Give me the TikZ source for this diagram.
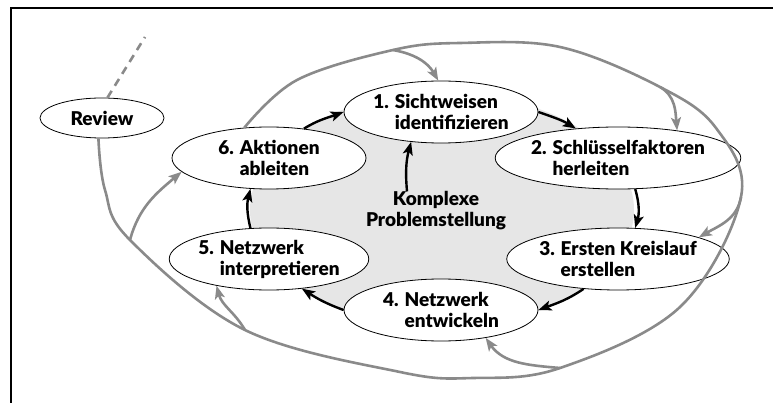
\documentclass[tikz,border=0pt]{standalone}
\usepackage{fontspec}
\setmainfont{Lato}
\newfontfamily\stagefont{Lato Black}
\usetikzlibrary{shapes.geometric,arrows.meta}

\definecolor{loopgray}{HTML}{8A8A8A}
\definecolor{coregray}{HTML}{E6E6E6}

\begin{document}
\begin{tikzpicture}[x=1pt,y=-1pt,
	stage/.style={ellipse, draw, line width=0.8pt, fill=white, inner sep=0pt,
		minimum width=194pt, minimum height=62pt, align=left,
		font=\stagefont\fontsize{19}{21}\selectfont},
	cyclearrow/.style={line width=2.4pt, -{Stealth[length=13pt,width=10pt,inset=3pt]}},
	grayline/.style={draw=loopgray, line width=2.6pt},
	grayarrow/.style={grayline, -{Stealth[length=13pt,width=10pt,inset=3pt]}}]

	\useasboundingbox (0,0) rectangle (773,403);
	\draw[line width=2.3pt] (773,8) -- (11,8) -- (11,403);

	% grey core
	\fill[coregray] (442,210) ellipse [x radius=192, y radius=117];

	\node[stage] (n1) at (441,112) {1. Sichtweisen\\\phantom{1. }identifizieren};
	\node[stage, minimum width=202pt] (n2) at (618,158) {2. Schlüsselfaktoren\\\phantom{2. }herleiten};
	\node[stage, minimum width=202pt] (n3) at (618,259) {3. Ersten Kreislauf\\\phantom{3. }erstellen};
	\node[stage] (n4) at (441,310) {4. Netzwerk\\\phantom{4. }entwickeln};
	\node[stage] (n5) at (269,259) {5. Netzwerk\\\phantom{5. }interpretieren};
	\node[stage] (n6) at (269,158) {6. Aktionen\\\phantom{6. }ableiten};
	\node[stage, minimum width=124pt, minimum height=40pt] (rev) at (102,118) {Review};
	\node[inner sep=0pt, align=center, font=\stagefont\fontsize{19}{21}\selectfont]
		(prob) at (436,211) {Komplexe\\Problemstellung};

	% cycle
	\draw[cyclearrow] (n6.40) to[out=32,in=200] (n1.west);
	\draw[cyclearrow] (n1.east) to[out=-19,in=149] (n2.145);
	\draw[cyclearrow] (n2.-61) to[out=-74,in=74] (n3.61);
	\draw[cyclearrow] (n3.-139) to[out=-146,in=20] (n4.east);
	\draw[cyclearrow] (n4.west) to[out=160,in=-33] (n5.-42);
	\draw[cyclearrow] (n5.121) to[out=104,in=-104] (n6.-121);
	\draw[cyclearrow] ([xshift=-29pt]prob.north) to[out=95,in=-105] (n1.-135);

	% review loop
	\coordinate (b1) at (393,50);
	\coordinate (b2) at (660,87);
	\coordinate (b3) at (741,197);
	\coordinate (b4) at (560,368);
	\coordinate (b5) at (245,330);
	\coordinate (b6) at (130,240);
	\coordinate (revtail) at (145,37);

	\draw[grayline] plot[smooth, tension=0.6] coordinates {(rev.-100) (105,190) (b6) (b5)
		(400,372) (473,378) (b4) (680,307) (b3) (716,128) (b2) (560,47) (460,43) (b1)
		(297,80) (n6.129)};
	\draw[grayline, dash pattern=on 8pt off 6pt] (rev.75) -- (revtail);

	\draw[grayarrow] (b1) to[out=-10,in=120] (n1.95);
	\draw[grayarrow] (b2) to[out=-30,in=95] (n2.25);
	\draw[grayarrow] (b3) to[out=-100,in=30] (n3.15);
	\draw[grayarrow] (b4) to[out=175,in=-55] (n4.-32);
	\draw[grayarrow] (b5) to[out=120,in=-75] (n5.-153);
	\draw[grayarrow] (b6) to[out=75,in=-140] (n6.-171);

\end{tikzpicture}
\end{document}
